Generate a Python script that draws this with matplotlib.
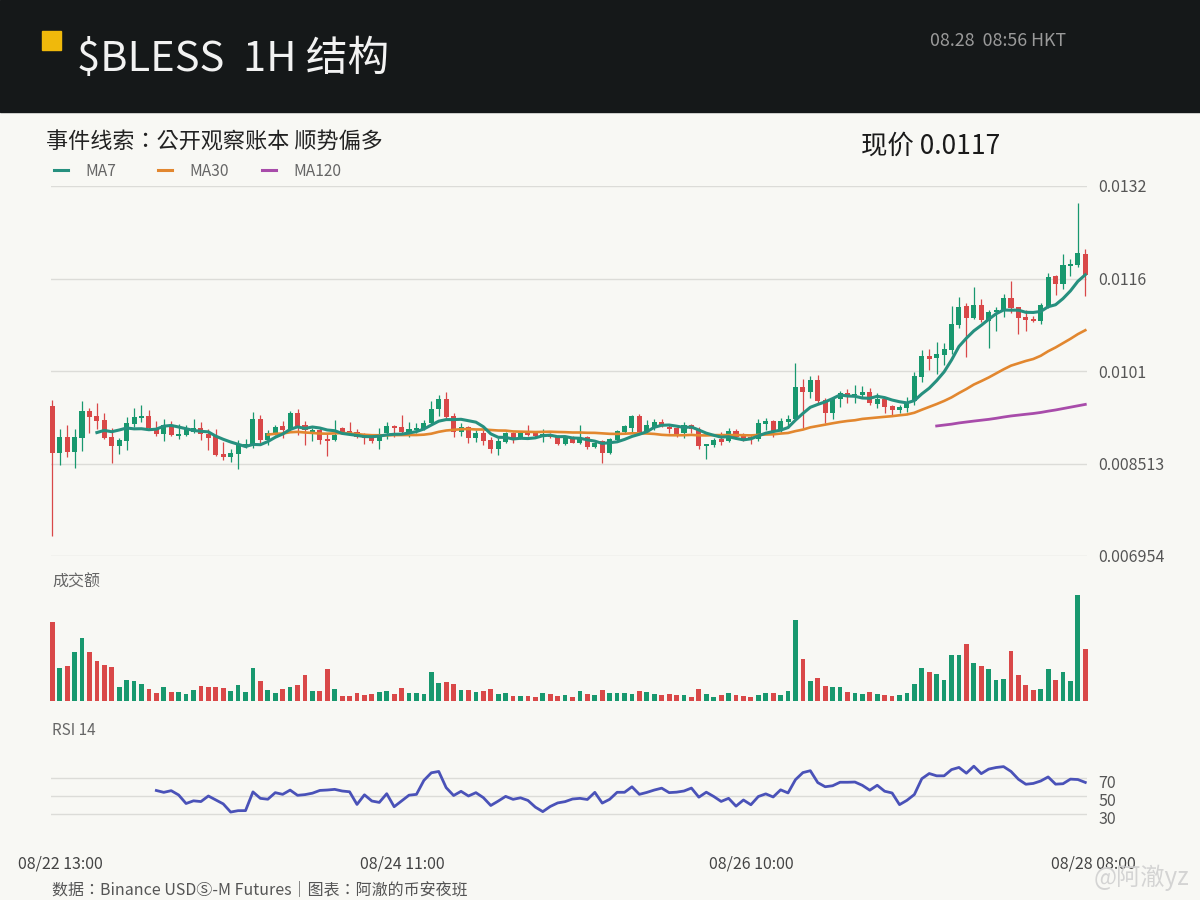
import numpy as np
import pandas as pd
import matplotlib
matplotlib.use("Agg")
import matplotlib.pyplot as plt
from matplotlib.patches import Rectangle
from matplotlib.transforms import ScaledTranslation

plt.rcParams['font.family'] = ['Noto Sans CJK SC', 'DejaVu Sans']
CJK_TC = ['Noto Sans CJK TC', 'DejaVu Sans']

# ---------------- data (1H candles, 08/22 13:00 -> 08/28 08:00) ----------------
opens = [0.009482, 0.008690, 0.008960, 0.008707, 0.008943, 0.009398, 0.009313, 0.009246, 0.008960, 0.008808,
         0.008892, 0.009179, 0.009280, 0.009313, 0.009111, 0.009010, 0.009162, 0.008977, 0.008993, 0.009044,
         0.009111, 0.009010, 0.008977, 0.008674, 0.008623, 0.008674, 0.008791, 0.008842, 0.009263, 0.008909,
         0.009027, 0.009145, 0.009078, 0.009364, 0.009162, 0.009044, 0.009078, 0.008926, 0.008909, 0.009111,
         0.009061, 0.009044, 0.008977, 0.008960, 0.008892, 0.009027, 0.009145, 0.009128, 0.009044, 0.009078,
         0.009094, 0.009195, 0.009431, 0.009600, 0.009313, 0.009044, 0.009128, 0.008943, 0.009027, 0.008909,
         0.008758, 0.008876, 0.009027, 0.008943, 0.009027, 0.009027, 0.008977, 0.008993, 0.008960, 0.008842,
         0.008960, 0.008859, 0.008960, 0.008791, 0.008892, 0.008690, 0.008909, 0.009044, 0.009111, 0.009313,
         0.009044, 0.009128, 0.009212, 0.009128, 0.009111, 0.009027, 0.009162, 0.009094, 0.008808, 0.008825,
         0.008926, 0.008892, 0.009061, 0.008977, 0.008960, 0.008926, 0.009179, 0.009229, 0.009061, 0.009212,
         0.009263, 0.009802, 0.009718, 0.009920, 0.009583, 0.009364, 0.009600, 0.009701, 0.009667, 0.009667,
         0.009718, 0.009516, 0.009600, 0.009482, 0.009414, 0.009448, 0.009566, 0.009971, 0.010324, 0.010291,
         0.010341, 0.010426, 0.010847, 0.011167, 0.010965, 0.011184, 0.010914, 0.011066, 0.011100, 0.011302,
         0.011150, 0.010982, 0.010948, 0.010914, 0.011150, 0.011672, 0.011538, 0.011841, 0.011858, 0.012043]

highs = [0.009583, 0.009094, 0.009162, 0.009094, 0.009566, 0.009448, 0.009532, 0.009364, 0.009111, 0.008943,
         0.009297, 0.009448, 0.009499, 0.009414, 0.009229, 0.009263, 0.009229, 0.009179, 0.009162, 0.009263,
         0.009212, 0.009094, 0.009094, 0.008876, 0.008758, 0.008909, 0.008926, 0.009381, 0.009330, 0.009078,
         0.009162, 0.009229, 0.009398, 0.009431, 0.009229, 0.009111, 0.009128, 0.009010, 0.009246, 0.009128,
         0.009212, 0.009094, 0.009027, 0.008993, 0.009111, 0.009212, 0.009162, 0.009330, 0.009212, 0.009195,
         0.009246, 0.009566, 0.009667, 0.009718, 0.009364, 0.009195, 0.009145, 0.009078, 0.009078, 0.008960,
         0.008943, 0.009044, 0.009044, 0.009044, 0.009162, 0.009044, 0.009094, 0.009027, 0.008993, 0.008977,
         0.008977, 0.009162, 0.008977, 0.008892, 0.008909, 0.008943, 0.009078, 0.009162, 0.009330, 0.009347,
         0.009246, 0.009263, 0.009263, 0.009162, 0.009128, 0.009212, 0.009179, 0.009128, 0.008842, 0.008943,
         0.009044, 0.009111, 0.009094, 0.009027, 0.008993, 0.009263, 0.009280, 0.009246, 0.009280, 0.009330,
         0.010206, 0.009937, 0.009987, 0.010004, 0.009617, 0.009634, 0.009735, 0.009768, 0.009836, 0.009819,
         0.009785, 0.009701, 0.009634, 0.009499, 0.009499, 0.009634, 0.010055, 0.010426, 0.010442, 0.010560,
         0.010543, 0.011167, 0.011319, 0.011217, 0.011487, 0.011285, 0.011100, 0.011150, 0.011369, 0.011588,
         0.011150, 0.011100, 0.010998, 0.011217, 0.011723, 0.011689, 0.012043, 0.011959, 0.012902, 0.012127]

lows = [0.007291, 0.008488, 0.008623, 0.008438, 0.008724, 0.009027, 0.009094, 0.008926, 0.008522, 0.008674,
        0.008741, 0.009128, 0.009212, 0.009078, 0.008977, 0.008892, 0.008977, 0.008926, 0.008977, 0.009027,
        0.008909, 0.008741, 0.008640, 0.008573, 0.008539, 0.008421, 0.008775, 0.008775, 0.008859, 0.008825,
        0.008993, 0.008943, 0.009044, 0.008993, 0.008825, 0.008892, 0.008842, 0.008640, 0.008892, 0.009027,
        0.009010, 0.008943, 0.008842, 0.008859, 0.008758, 0.008926, 0.008960, 0.009010, 0.008960, 0.009027,
        0.009078, 0.009179, 0.009313, 0.009280, 0.008960, 0.008977, 0.008859, 0.008876, 0.008825, 0.008690,
        0.008657, 0.008859, 0.008859, 0.008926, 0.008977, 0.008960, 0.008876, 0.008943, 0.008825, 0.008825,
        0.008859, 0.008842, 0.008758, 0.008775, 0.008522, 0.008674, 0.008876, 0.009027, 0.009027, 0.009027,
        0.009027, 0.009078, 0.009128, 0.009027, 0.008960, 0.008943, 0.009027, 0.008758, 0.008589, 0.008791,
        0.008825, 0.008876, 0.008926, 0.008892, 0.008842, 0.008892, 0.009078, 0.008960, 0.009044, 0.009111,
        0.009246, 0.009111, 0.009617, 0.009532, 0.009195, 0.009263, 0.009465, 0.009532, 0.009532, 0.009634,
        0.009499, 0.009448, 0.009364, 0.009330, 0.009364, 0.009381, 0.009499, 0.009886, 0.010089, 0.010021,
        0.010173, 0.010358, 0.010796, 0.010308, 0.010948, 0.010897, 0.010459, 0.010746, 0.010982, 0.011049,
        0.010695, 0.010746, 0.010897, 0.010864, 0.011133, 0.011352, 0.011453, 0.011672, 0.011824, 0.011335]

closes = [0.008690, 0.008960, 0.008707, 0.008960, 0.009398, 0.009297, 0.009229, 0.008943, 0.008808, 0.008909,
          0.009195, 0.009297, 0.009313, 0.009111, 0.009010, 0.009162, 0.008993, 0.009010, 0.009094, 0.009111,
          0.009010, 0.008943, 0.008657, 0.008623, 0.008690, 0.008825, 0.008842, 0.009263, 0.008909, 0.009027,
          0.009128, 0.009078, 0.009364, 0.009145, 0.009078, 0.009078, 0.008909, 0.008892, 0.008993, 0.009044,
          0.009027, 0.008960, 0.008943, 0.008892, 0.008960, 0.009145, 0.009111, 0.009044, 0.009094, 0.009111,
          0.009195, 0.009431, 0.009600, 0.009297, 0.009044, 0.009128, 0.008943, 0.009027, 0.008892, 0.008758,
          0.008892, 0.009027, 0.008943, 0.009027, 0.008993, 0.008977, 0.009010, 0.008960, 0.008842, 0.008960,
          0.008859, 0.008960, 0.008791, 0.008859, 0.008690, 0.008926, 0.009061, 0.009145, 0.009313, 0.009044,
          0.009162, 0.009212, 0.009162, 0.009094, 0.009010, 0.009162, 0.009094, 0.008808, 0.008842, 0.008909,
          0.008876, 0.009061, 0.008960, 0.008926, 0.008926, 0.009195, 0.009229, 0.009061, 0.009229, 0.009263,
          0.009802, 0.009718, 0.009920, 0.009566, 0.009364, 0.009617, 0.009701, 0.009667, 0.009684, 0.009718,
          0.009532, 0.009600, 0.009465, 0.009414, 0.009465, 0.009549, 0.009987, 0.010324, 0.010274, 0.010358,
          0.010442, 0.010864, 0.011150, 0.010965, 0.011184, 0.010931, 0.011066, 0.011100, 0.011302, 0.011133,
          0.010965, 0.010931, 0.010914, 0.011184, 0.011656, 0.011538, 0.011858, 0.011875, 0.012060, 0.011689]

# turnover (relative units)
turnover = [79, 33, 35, 49, 63, 49, 40, 36, 34, 14,
            21, 20, 17, 12, 8, 14, 9, 9, 7, 11,
            15, 14, 14, 13, 10, 16, 9, 33, 20, 11,
            8, 12, 14, 16, 26, 10, 10, 32, 12, 5,
            5, 8, 6, 7, 9, 10, 7, 13, 8, 8,
            7, 29, 18, 19, 17, 11, 11, 9, 10, 12,
            7, 8, 5, 5, 5, 4, 8, 7, 5, 5.7,
            3.7, 10, 7, 5.7, 10.7, 7.7, 7.7, 7.7, 6.7, 10,
            9, 6.7, 5.7, 6.7, 5.7, 5.7, 3.7, 11.7, 6.7, 3.7,
            5.7, 7.7, 5.7, 4.7, 3.7, 5.7, 7.7, 7.7, 5.7, 10,
            80.7, 41.7, 19.7, 22.7, 14.7, 13.7, 13.7, 8.7, 7.7, 6.7,
            8.7, 6.7, 5.7, 4.7, 5.7, 7.7, 16.7, 32.7, 28.7, 26.7,
            20.7, 45.7, 45.7, 56.7, 37.7, 34.7, 31.7, 20.7, 21.7, 49.7,
            25.7, 15.7, 10.7, 11.7, 31.7, 20.7, 28.7, 19.7, 105.7, 51.7]

price_ticks = [0.006954, 0.008513, 0.010072, 0.011631, 0.013190]
price_tick_labels = ["0.006954", "0.008513", "0.0101", "0.0116", "0.0132"]
x_tick_idx = [0, 46, 93, 139]
x_tick_labels = ["08/22 13:00", "08/24 11:00", "08/26 10:00", "08/28 08:00"]
rsi_levels = [30, 50, 70]

# ---------------- styles ----------------
BG = "#f8f8f4"
HEADER = "#151819"
UP = "#18986e"
DOWN = "#d94848"
C_MA7 = "#26907f"
C_MA30 = "#e2872f"
C_MA120 = "#a84caa"
C_RSI = "#4a52b8"
GRID = "#dcdcd8"

W, H = 1200, 900
fig = plt.figure(figsize=(12, 9), dpi=100)
fig.patch.set_facecolor(BG)


def rect(x0, y0, x1, y1):
    return [x0 / W, 1 - y1 / H, (x1 - x0) / W, (y1 - y0) / H]


n = len(closes)
x = np.arange(n)
o = np.array(opens); c = np.array(closes); hi = np.array(highs); lo = np.array(lows)
cols = [UP if c[i] >= o[i] else DOWN for i in range(n)]

px_per = (1085.3 - 52.3) / (n - 1)
xlim = ((51 - 52.3) / px_per, (1087 - 52.3) / px_per)

# header band
fig.add_artist(Rectangle((0, 1 - 112 / H), 1, 112 / H, transform=fig.transFigure,
                         color=HEADER, zorder=0))
fig.add_artist(Rectangle((42 / W, 1 - 50 / H), 19 / W, 19 / H, transform=fig.transFigure,
                         color="#f0b90b", zorder=1))
fig.text(77 / W, 1 - 71 / H, "$BLESS  1H 结构", fontsize=30, color="#f2f2f2",
         va="baseline", ha="left")
fig.text(930 / W, 1 - 46 / H, "08.28  08:56 HKT", fontsize=12.8, color="#9a9a9a",
         va="baseline", ha="left")

fig.text(46 / W, 1 - 149 / H, "事件线索：公开观察账本 顺势偏多", fontsize=15.9,
         color="#222222", va="baseline", ha="left", family=CJK_TC)
fig.text(861 / W, 1 - 154 / H, "现价 0.0117", fontsize=19, color="#1a1a1a",
         va="baseline", ha="left")

# legend
for (lx, name, col) in [(54, "MA7", C_MA7), (158, "MA30", C_MA30), (262, "MA120", C_MA120)]:
    fig.add_artist(plt.Line2D([lx / W, (lx + 14) / W], [1 - 170 / H, 1 - 170 / H],
                              transform=fig.transFigure, color=col, lw=2.2))
    fig.text((lx + 31) / W, 1 - 176.5 / H, name, fontsize=11.2, color="#666666",
             va="baseline", ha="left")

# ---------------- main price panel ----------------
ax = fig.add_axes(rect(51, 186, 1087, 556))
ax.set_facecolor(BG)
ax.set_xlim(*xlim)
ax.set_ylim(price_ticks[0], price_ticks[-1])
ax.set_yticks(price_ticks)
ax.set_yticklabels(price_tick_labels)
ax.yaxis.tick_right()
ax.tick_params(axis="y", length=0, pad=8, labelsize=11.5, labelcolor="#555555")
ax.set_xticks([])
ax.grid(axis="y", color=GRID, lw=1)
ax.set_axisbelow(True)
for s in ax.spines.values():
    s.set_visible(False)

ax.vlines(x, lo, hi, colors=cols, lw=0.9, zorder=2, clip_on=False)
body_bottom = np.minimum(o, c)
body_h = np.maximum(np.abs(c - o), 0.000014)
ax.bar(x, body_h, bottom=body_bottom, width=0.68, color=cols, lw=0, zorder=3, clip_on=False)

cs = pd.Series(closes)
ma7 = cs.rolling(7).mean()
ma30 = cs.rolling(30).mean()
ma120 = cs.rolling(120).mean()
ax.plot(x, ma30, color=C_MA30, lw=1.9, zorder=4)
ax.plot(x, ma120, color=C_MA120, lw=2.0, zorder=4)
ax.plot(x, ma7, color=C_MA7, lw=2.2, zorder=5)

# ---------------- turnover panel ----------------
fig.text(52 / W, 1 - 587 / H, "成交额", fontsize=11.5, color="#666666", va="baseline")
axv = fig.add_axes(rect(51, 591, 1087, 701))
axv.set_facecolor(BG)
axv.set_xlim(*xlim)
axv.set_ylim(0, 110)
axv.bar(x, turnover, width=0.64, color=cols, lw=0, clip_on=False)
axv.set_xticks([]); axv.set_yticks([])
for s in axv.spines.values():
    s.set_visible(False)

# ---------------- RSI panel (14, simple averages) ----------------
d = cs.diff()
avg_gain = d.clip(lower=0).rolling(14).mean()
avg_loss = (-d.clip(upper=0)).rolling(14).mean()
rsi = 100 - 100 / (1 + avg_gain / avg_loss)

fig.text(52 / W, 1 - 735 / H, "RSI 14", fontsize=11, color="#666666", va="baseline")
axr = fig.add_axes(rect(51, 751, 1087, 841))
axr.set_facecolor(BG)
axr.set_xlim(*xlim)
axr.set_ylim(0, 100)
axr.plot(x, rsi, color=C_RSI, lw=2.0)
axr.set_yticks(rsi_levels)
axr.set_yticklabels([str(v) for v in rsi_levels])
axr.yaxis.tick_right()
axr.tick_params(axis="y", length=0, pad=8, labelsize=11.5, labelcolor="#555555")
for lab in axr.get_yticklabels():
    lab.set_transform(lab.get_transform() + ScaledTranslation(0, -4 / 100, fig.dpi_scale_trans))
axr.grid(axis="y", color=GRID, lw=1)
axr.set_axisbelow(True)
axr.set_xticks(x_tick_idx)
axr.set_xticklabels(x_tick_labels)
axr.tick_params(axis="x", length=0, pad=10.5, labelsize=11.5, labelcolor="#444444")
for lab in axr.get_xticklabels():
    lab.set_transform(lab.get_transform() + ScaledTranslation(8 / 100, 0, fig.dpi_scale_trans))
for s in axr.spines.values():
    s.set_visible(False)

# footer
fig.text(52 / W, 1 - 894 / H, "数据：Binance USDⓈ-M Futures｜图表：阿澈的币安夜班",
         fontsize=11.5, color="#555555", va="baseline", family=CJK_TC)
fig.text(1094 / W, 1 - 885 / H, "@阿澈yz", fontsize=17.5, color="#d0d0d0",
         va="baseline", ha="left", alpha=0.9)

fig.savefig("out.png", dpi=100, facecolor=BG)
